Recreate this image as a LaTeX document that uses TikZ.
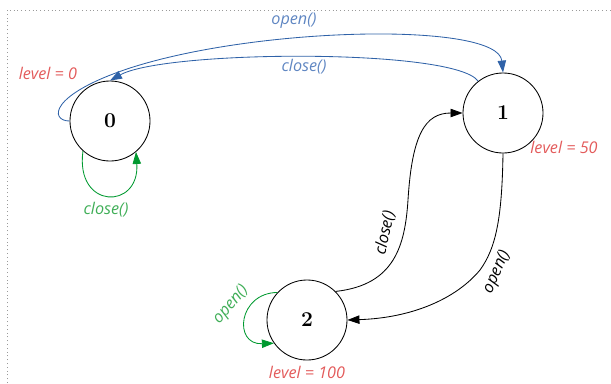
\documentclass[tikz,border=0pt]{standalone}
\usepackage{fontspec}
\setsansfont{Open Sans}
\usetikzlibrary{arrows.meta}
\definecolor{cblue}{HTML}{2F62A8}
\definecolor{cbluetext}{HTML}{5F86C2}
\definecolor{cred}{HTML}{E35B5B}
\definecolor{cgreen}{HTML}{00992F}
\definecolor{cgreentext}{HTML}{3FAE57}
\definecolor{cgrey}{HTML}{9A9A9A}
\tikzset{
  every picture/.style={line width=0.6pt},
  state/.style={draw, circle, minimum size=2cm, inner sep=0pt, font=\fontsize{15}{18}\selectfont\bfseries},
  arrow/.style={-{Triangle[length=3mm, width=2.1mm]}, draw=#1},
  arrow/.default=black,
  lbl/.style={font=\sffamily\itshape\fontsize{11.5}{13}\selectfont, text=#1, inner sep=1pt},
  lbl/.default=black,
}

\begin{document}
\begin{tikzpicture}[x=0.025cm, y=-0.025cm]
  \useasboundingbox (0,0) rectangle (611,383);
  % page border
  \draw[cgrey, dotted, line width=0.7pt] (7,383) -- (7,10) -- (611,10);
  % states
  \node[state] (s0) at (110,121) {0};
  \node[state] (s1) at (503,113) {1};
  \node[state] (s2) at (307,320) {2};
  % state values
  \node[lbl=cred] (v0) at (48,73) {level = 0};
  \node[lbl=cred] (v1) at (564,147) {level = 50};
  \node[lbl=cred] (v2) at (307,372) {level = 100};
  % transitions between 0 and 1
  \draw[arrow=cblue] (s0.west) .. controls (50,121) and (48,95) .. (130,68)
    .. controls (260,26) and (498,22) .. (s1.north);
  \draw[arrow=cblue] (s1.128) .. controls (455,48) and (165,50) .. (s0.north);
  \node[lbl=cbluetext] (t01) at (294,21) {open()};
  \node[lbl=cbluetext] (t10) at (304,67) {close()};
  % self loops
  \draw[arrow=cgreen] (s0.228) .. controls (75,210) and (140,210) .. (s0.310);
  \node[lbl=cgreentext] (t00) at (106,210) {close()};
  \draw[arrow=cgreen] (s2.137) .. controls (238,293) and (233,345) .. (s2.215);
  \node[lbl=cgreentext, rotate=50] (t22) at (231,305) {open()};
  % transitions between 1 and 2
  \draw[arrow] (s2.45) .. controls (395,285) and (405,245) .. (408,200)
    .. controls (412,135) and (425,113) .. (s1.west);
  \node[lbl, rotate=78] (t21) at (385,233) {close()};
  \draw[arrow] (s1.south) .. controls (502,218) and (496,248) .. (480,270)
    .. controls (455,300) and (410,318) .. (s2.east);
  \node[lbl, rotate=66] (t12) at (497,272) {open()};
\end{tikzpicture}
\end{document}
